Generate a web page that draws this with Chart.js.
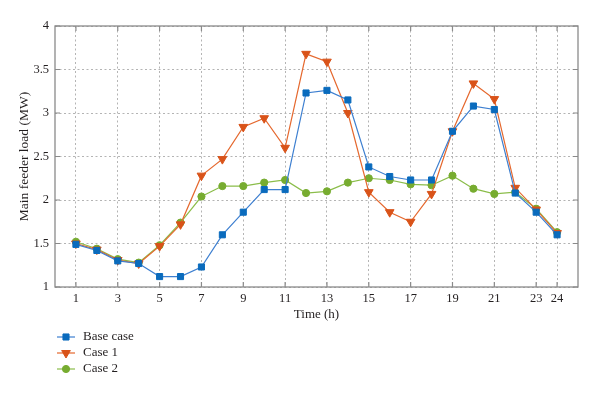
<!DOCTYPE html>
<html>
<head>
<meta charset="utf-8">
<script src="https://cdn.jsdelivr.net/npm/chart.js@4/dist/chart.umd.min.js"></script>
<style>
  html, body { margin: 0; padding: 0; background: #fff; }
  #wrap { width: 600px; height: 395px; position: relative; }
</style>
</head>
<body>
<div id="wrap"><canvas id="c" width="600" height="395"></canvas></div>
<script>
// ---- data ----
const hours = [1,2,3,4,5,6,7,8,9,10,11,12,13,14,15,16,17,18,19,20,21,22,23,24];
const baseCase = [1.49,1.42,1.30,1.27,1.12,1.12,1.23,1.60,1.86,2.12,2.12,3.23,3.26,3.15,2.38,2.27,2.23,2.23,2.79,3.08,3.04,2.08,1.86,1.60];
const case1    = [1.50,1.43,1.31,1.27,1.47,1.72,2.28,2.47,2.84,2.94,2.60,3.68,3.59,3.00,2.09,1.86,1.75,2.07,2.79,3.34,3.16,2.14,1.89,1.62];
const case2    = [1.52,1.44,1.32,1.28,1.48,1.74,2.04,2.16,2.16,2.20,2.23,2.08,2.10,2.20,2.25,2.23,2.18,2.17,2.28,2.13,2.07,2.09,1.90,1.63];
const xTickValues = [1,3,5,7,9,11,13,15,17,19,21,23,24];
const yTickValues = [1,1.5,2,2.5,3,3.5,4];
const seriesNames = ['Base case','Case 1','Case 2'];
const xTitle = 'Time (h)';
const yTitle = 'Main feeder load (MW)';

const FONT = "'Liberation Serif', 'DejaVu Serif', serif";
const TEXT = '#231f20';

function pts(vals) { return hours.map((h, i) => ({x: h, y: vals[i]})); }

const datasets = [
  { label: seriesNames[0], data: pts(baseCase), borderColor: '#3d7fd0', backgroundColor: '#0a6bbd',
    pointBackgroundColor: '#0a6bbd', pointBorderColor: '#0a6bbd', pointStyle: 'rect', pointRadius: 4.3, pointRotation: 0 },
  { label: seriesNames[1], data: pts(case1), borderColor: '#e5682e', backgroundColor: '#d95319',
    pointBackgroundColor: '#d95319', pointBorderColor: '#d95319', pointStyle: 'triangle', pointRadius: 5, pointRotation: 180 },
  { label: seriesNames[2], data: pts(case2), borderColor: '#8bbd4a', backgroundColor: '#77ac30',
    pointBackgroundColor: '#77ac30', pointBorderColor: '#77ac30', pointStyle: 'circle', pointRadius: 3.6, pointRotation: 0 }
].map((d, i) => Object.assign({ borderWidth: 1.2, pointBorderWidth: 1, tension: 0, fill: false, order: i }, d));

// box + inward tick marks
const boxPlugin = {
  id: 'box',
  afterDatasetsDraw(chart) {
    const {ctx, chartArea: a, scales: {x, y}} = chart;
    ctx.save();
    ctx.strokeStyle = '#8a8a8a';
    ctx.lineWidth = 1.3;
    ctx.strokeRect(a.left, a.top, a.right - a.left, a.bottom - a.top);
    ctx.lineWidth = 1.2;
    ctx.beginPath();
    x.ticks.forEach(t => {
      const px = x.getPixelForValue(t.value);
      ctx.moveTo(px, a.bottom); ctx.lineTo(px, a.bottom - 5);
      ctx.moveTo(px, a.top); ctx.lineTo(px, a.top + 5);
    });
    y.ticks.forEach(t => {
      const py = y.getPixelForValue(t.value);
      ctx.moveTo(a.left, py); ctx.lineTo(a.left + 5, py);
      ctx.moveTo(a.right, py); ctx.lineTo(a.right - 5, py);
    });
    ctx.stroke();
    ctx.restore();
  }
};

// vertical legend below the plot
const legendPlugin = {
  id: 'vlegend',
  afterDraw(chart) {
    const {ctx} = chart;
    ctx.save();
    const x0 = 57, x1 = 75, tx = 83, y0 = 337, dy = 16;
    chart.data.datasets.forEach((ds, i) => {
      const yy = y0 + i * dy;
      ctx.strokeStyle = ds.borderColor;
      ctx.lineWidth = 1.2;
      ctx.beginPath(); ctx.moveTo(x0, yy); ctx.lineTo(x1, yy); ctx.stroke();
      ctx.fillStyle = ds.pointBackgroundColor;
      ctx.strokeStyle = ds.pointBorderColor;
      ctx.lineWidth = 1;
      Chart.helpers.drawPoint(ctx, { pointStyle: ds.pointStyle, radius: ds.pointRadius, rotation: ds.pointRotation, borderWidth: 1 }, (x0 + x1) / 2, yy);
      ctx.fillStyle = TEXT;
      ctx.font = "13px " + FONT;
      ctx.textBaseline = 'middle';
      ctx.textAlign = 'left';
      ctx.fillText(ds.label, tx, yy);
    });
    ctx.restore();
  }
};

new Chart(document.getElementById('c'), {
  type: 'line',
  data: { datasets },
  plugins: [boxPlugin, legendPlugin],
  options: {
    responsive: false,
    animation: false,
    devicePixelRatio: 1,
    layout: { padding: { top: 26, right: 22, left: 0, bottom: 68 } },
    plugins: { legend: { display: false }, tooltip: { enabled: false } },
    scales: {
      x: {
        type: 'linear', min: 0, max: 25,
        afterBuildTicks(s) { s.ticks = xTickValues.map(v => ({ value: v })); },
        afterFit(s) { s.height = 40; },
        grid: { color: '#b4b4b4', lineWidth: 1, drawTicks: false },
        border: { display: false, dash: [2, 2.5] },
        ticks: { color: TEXT, font: { family: FONT, size: 12.5 }, padding: 4, autoSkip: false, maxRotation: 0,
                 callback: v => String(v) },
        title: { display: true, text: xTitle, color: TEXT, font: { family: FONT, size: 13 }, padding: { top: 0, bottom: 5 } }
      },
      y: {
        type: 'linear', min: 1, max: 4,
        afterBuildTicks(s) { s.ticks = yTickValues.map(v => ({ value: v })); },
        afterFit(s) { s.width = 55; },
        grid: { color: '#b4b4b4', lineWidth: 1, drawTicks: false },
        border: { display: false, dash: [2, 2.5] },
        ticks: { color: TEXT, font: { family: FONT, size: 12.5 }, padding: 6, callback: v => String(v) },
        title: { display: true, text: yTitle, color: TEXT, font: { family: FONT, size: 13.5 }, padding: { top: 16, bottom: 0 } }
      }
    }
  }
});
</script>
</body>
</html>
